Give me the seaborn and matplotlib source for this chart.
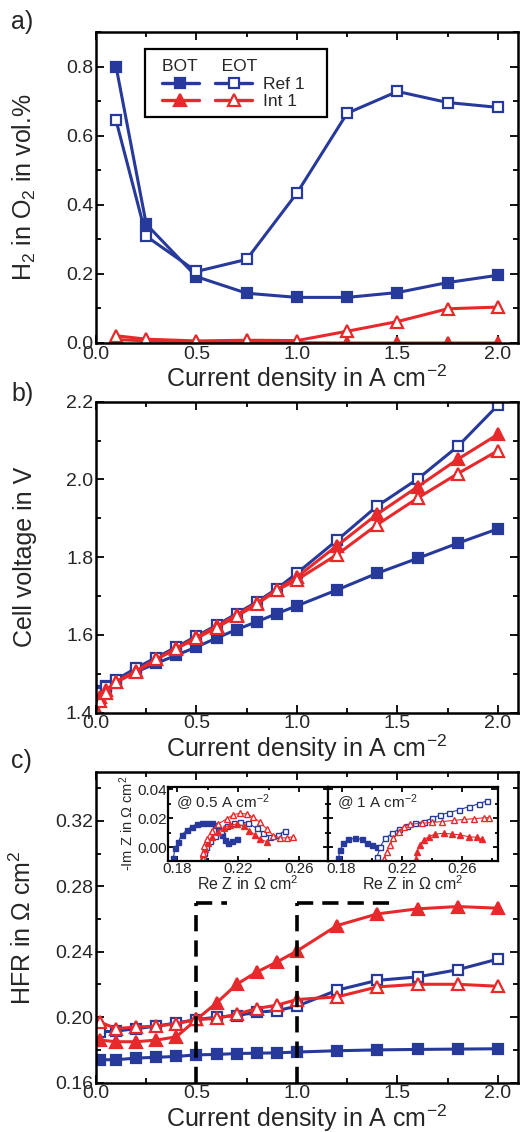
import matplotlib
matplotlib.use("Agg")
import matplotlib.pyplot as plt
import seaborn as sns
from matplotlib.lines import Line2D
from matplotlib.legend_handler import HandlerTuple
from matplotlib.patches import Rectangle
from matplotlib.ticker import MultipleLocator

# ---- panel a: H2 in O2 ----
a_j = [0.1, 0.25, 0.5, 0.75, 1.0, 1.25, 1.5, 1.75, 2.0]
a_bot_ref = [0.80, 0.344, 0.192, 0.144, 0.132, 0.132, 0.146, 0.175, 0.196]
a_eot_ref = [0.644, 0.309, 0.207, 0.242, 0.434, 0.665, 0.728, 0.696, 0.682]
a_bot_int = [0.010, 0.006, 0.002, 0.001, 0.001, 0.0, 0.0, 0.0, 0.0]
a_eot_int = [0.021, 0.011, 0.006, 0.008, 0.007, 0.034, 0.062, 0.099, 0.104]

# ---- panel b: polarisation curves ----
b_j = [0.0, 0.02, 0.05, 0.1, 0.2, 0.3, 0.4, 0.5, 0.6, 0.7, 0.8, 0.9, 1.0,
       1.2, 1.4, 1.6, 1.8, 2.0]
b_bot_ref = [1.44, 1.455, 1.468, 1.482, 1.505, 1.527, 1.548, 1.569, 1.592,
             1.614, 1.634, 1.655, 1.675, 1.716, 1.759, 1.797, 1.836, 1.873]
b_eot_ref = [1.43, 1.45, 1.465, 1.485, 1.515, 1.542, 1.569, 1.597, 1.625,
             1.655, 1.685, 1.719, 1.759, 1.844, 1.932, 2.001, 2.085, 2.191]
b_bot_int = [1.41, 1.44, 1.458, 1.48, 1.508, 1.538, 1.566, 1.594, 1.622,
             1.652, 1.682, 1.716, 1.749, 1.83, 1.911, 1.981, 2.052, 2.116]
b_eot_int = [1.405, 1.43, 1.45, 1.478, 1.505, 1.537, 1.565, 1.591, 1.619,
             1.648, 1.679, 1.715, 1.742, 1.807, 1.884, 1.952, 2.015, 2.074]

# ---- panel c: HFR ----
c_j = [0.02, 0.1, 0.2, 0.3, 0.4, 0.5, 0.6, 0.7, 0.8, 0.9, 1.0, 1.2, 1.4,
       1.6, 1.8, 2.0]
c_bot_ref = [0.174, 0.174, 0.175, 0.1755, 0.176, 0.177, 0.1772, 0.1778,
             0.178, 0.1782, 0.1787, 0.1795, 0.180, 0.1803, 0.1805, 0.1807]
c_eot_ref = [0.191, 0.1915, 0.193, 0.1945, 0.1965, 0.1985, 0.200, 0.201,
             0.203, 0.204, 0.2067, 0.2165, 0.2225, 0.2246, 0.229, 0.2355]
c_bot_int = [0.186, 0.185, 0.185, 0.186, 0.188, 0.1986, 0.2087, 0.2201,
             0.2276, 0.2337, 0.2404, 0.256, 0.2631, 0.2662, 0.2676, 0.2666]
c_eot_int = [0.197, 0.193, 0.194, 0.1945, 0.196, 0.1986, 0.1992, 0.2018,
             0.2053, 0.2073, 0.2108, 0.2124, 0.2185, 0.2201, 0.2201, 0.2189]
zoom_j = [0.5, 1.0]
zoom_end = [0.65, 1.5]
zoom_level = 0.27

# ---- insets: Nyquist at 0.5 A cm-2 ----
n05_bot_ref_re = [0.1775, 0.1786, 0.1808, 0.183, 0.1863, 0.1895, 0.1928,
                  0.1961, 0.1994, 0.2027, 0.2048, 0.207, 0.2092, 0.2114,
                  0.2136, 0.2158, 0.2191]
n05_bot_ref_im = [-0.0076, -0.0007, 0.0039, 0.0085, 0.0119, 0.0142, 0.016,
                  0.017, 0.017, 0.017, 0.0154, 0.0124, 0.0085, 0.005,
                  0.0032, 0.0046, 0.0055]
n05_eot_ref_re = [0.197, 0.1975, 0.199, 0.2015, 0.205, 0.209, 0.213, 0.217,
                  0.2212, 0.2267, 0.2322, 0.2365, 0.2409, 0.2464, 0.2508]
n05_eot_ref_im = [-0.008, -0.004, 0.0, 0.004, 0.008, 0.0115, 0.0145, 0.0165,
                  0.0177, 0.0166, 0.0131, 0.0097, 0.0073, 0.0085, 0.0115]
n05_bot_int_re = [0.1965, 0.197, 0.198, 0.200, 0.203, 0.2065, 0.2105, 0.215,
                  0.2195, 0.224, 0.2275, 0.2311, 0.2344, 0.2388]
n05_bot_int_im = [-0.008, -0.0045, -0.001, 0.003, 0.007, 0.0105, 0.0135,
                  0.0155, 0.016, 0.0145, 0.0115, 0.0085, 0.0055, 0.0039]
n05_eot_int_re = [0.1972, 0.1968, 0.1976, 0.1994, 0.2027, 0.207, 0.2125,
                  0.2168, 0.2212, 0.2256, 0.230, 0.2344, 0.2388, 0.2431,
                  0.2475, 0.2519, 0.2562]
n05_eot_int_im = [-0.0078, -0.004, 0.001, 0.0058, 0.0115, 0.0161, 0.0196,
                  0.0225, 0.0234, 0.023, 0.0207, 0.0172, 0.0127, 0.0081,
                  0.0065, 0.0065, 0.0074]

# ---- insets: Nyquist at 1 A cm-2 ----
n1_bot_ref_re = [0.1779, 0.179, 0.1812, 0.1845, 0.189, 0.1934, 0.1968,
                 0.2001, 0.2034]
n1_bot_ref_im = [-0.0076, -0.0019, 0.0028, 0.0055, 0.0062, 0.0055, 0.0032,
                 0.0016, 0.0004]
n1_eot_ref_re = [0.2035, 0.2057, 0.209, 0.2135, 0.2179, 0.2235, 0.229,
                 0.2345, 0.2401, 0.2457, 0.2512, 0.2579, 0.2645, 0.2712,
                 0.2768]
n1_eot_ref_im = [-0.007, 0.0003, 0.0062, 0.0096, 0.0124, 0.0147, 0.0165,
                 0.0177, 0.020, 0.0223, 0.0239, 0.0257, 0.028, 0.0299, 0.0321]
n1_bot_int_re = [0.2293, 0.230, 0.2322, 0.2345, 0.2378, 0.2423, 0.2478,
                 0.2534, 0.2589, 0.2645, 0.2701, 0.2734]
n1_bot_int_im = [-0.0083, -0.003, 0.0016, 0.005, 0.0073, 0.0092, 0.0096,
                 0.0092, 0.0085, 0.0073, 0.0069, 0.0055]
n1_eot_int_re = [0.2085, 0.2101, 0.2123, 0.2145, 0.2179, 0.2212, 0.2257,
                 0.2335, 0.2401, 0.2468, 0.2545, 0.2612, 0.2679, 0.2745,
                 0.2779]
n1_eot_int_im = [-0.0083, -0.003, 0.0016, 0.0062, 0.0108, 0.0142, 0.016,
                 0.0165, 0.0172, 0.0177, 0.0185, 0.0192, 0.0197, 0.0203,
                 0.0205]

BLUE = "#27399b"
RED = "#e8292c"

sns.set_style("ticks")
plt.rcParams["font.family"] = ["Liberation Sans", "DejaVu Sans"]
plt.rcParams["mathtext.fontset"] = "custom"
plt.rcParams["mathtext.rm"] = "Liberation Sans"
plt.rcParams["mathtext.default"] = "regular"


def draw(ax, x, y, color, marker, filled, ms, lw=2.2, mew=1.6):
    """Draw one series as a line with markers."""
    sns.lineplot(x=x, y=y, ax=ax, color=color, marker=marker,
                 markersize=ms, markerfacecolor=color if filled else "white",
                 markeredgecolor=color, markeredgewidth=mew, linewidth=lw,
                 sort=False, estimator=None, legend=False)


def style_axes(ax, xmaj, xmin, ymaj, ymin, size=14, lw=1.8, tl=6):
    ax.xaxis.set_major_locator(MultipleLocator(xmaj))
    ax.xaxis.set_minor_locator(MultipleLocator(xmin))
    ax.yaxis.set_major_locator(MultipleLocator(ymaj))
    ax.yaxis.set_minor_locator(MultipleLocator(ymin))
    ax.tick_params(which="both", direction="in", top=True, right=True,
                   width=1.3, labelsize=size, pad=2, color="black")
    ax.tick_params(which="major", length=tl)
    ax.tick_params(which="minor", length=tl * 0.55)
    for sp in ax.spines.values():
        sp.set_linewidth(lw)
        sp.set_color("black")


fig = plt.figure(figsize=(5.22, 11.32), dpi=100)
left, width, height = 0.1839, 0.8084, 0.2747
ax_a = fig.add_axes([left, 0.697, width, height])
ax_b = fig.add_axes([left, 0.3704, width, height])
ax_c = fig.add_axes([left, 0.0436, width, height])

xlabel = "Current density in A cm$^{-2}$"
LAB = 18

# panel a
draw(ax_a, a_j, a_bot_ref, BLUE, "s", True, 7.5)
draw(ax_a, a_j, a_eot_ref, BLUE, "s", False, 7.5)
draw(ax_a, a_j, a_bot_int, RED, "^", True, 9)
draw(ax_a, a_j, a_eot_int, RED, "^", False, 9)
ax_a.set_xlim(0, 2.1)
ax_a.set_ylim(0, 0.9)
style_axes(ax_a, 0.5, 0.25, 0.2, 0.1)
ax_a.set_xlabel(xlabel, fontsize=LAB, labelpad=0)
ax_a.set_ylabel("H$_2$ in O$_2$ in vol.%", fontsize=LAB, labelpad=20)

h_bot_ref = Line2D([], [], color=BLUE, marker="s", ms=7, lw=2.4,
                   mfc=BLUE, mec=BLUE, mew=1.6)
h_eot_ref = Line2D([], [], color=BLUE, marker="s", ms=7, lw=2.4,
                   mfc="white", mec=BLUE, mew=1.6)
h_bot_int = Line2D([], [], color=RED, marker="^", ms=8.5, lw=2.4,
                   mfc=RED, mec=RED, mew=1.6)
h_eot_int = Line2D([], [], color=RED, marker="^", ms=8.5, lw=2.4,
                   mfc="white", mec=RED, mew=1.6)
ax_a.add_patch(Rectangle((0.116, 0.727), 0.431, 0.218, transform=ax_a.transAxes,
                         facecolor="white", edgecolor="black", lw=1.6,
                         zorder=4))
leg = ax_a.legend([(h_bot_ref, h_eot_ref), (h_bot_int, h_eot_int)],
                  ["Ref 1", "Int 1"],
                  handler_map={tuple: HandlerTuple(ndivide=None, pad=0.92)},
                  handlelength=5.2, title="BOT     EOT", alignment="left",
                  loc="upper left", bbox_to_anchor=(0.156, 0.912),
                  fontsize=12.5, title_fontsize=12.5, frameon=False,
                  borderpad=0, labelspacing=0.13, handletextpad=0.63,
                  borderaxespad=0)
leg.set_zorder(5)

# panel b
draw(ax_b, b_j, b_bot_ref, BLUE, "s", True, 7)
draw(ax_b, b_j, b_eot_ref, BLUE, "s", False, 7)
draw(ax_b, b_j, b_bot_int, RED, "^", True, 9)
draw(ax_b, b_j, b_eot_int, RED, "^", False, 9)
ax_b.set_xlim(0, 2.1)
ax_b.set_ylim(1.4, 2.2)
style_axes(ax_b, 0.5, 0.25, 0.2, 0.1)
ax_b.set_xlabel(xlabel, fontsize=LAB, labelpad=0)
ax_b.set_ylabel("Cell voltage in V", fontsize=LAB, labelpad=21)

# panel c
draw(ax_c, c_j, c_bot_ref, BLUE, "s", True, 7.5)
draw(ax_c, c_j, c_eot_ref, BLUE, "s", False, 7.5)
draw(ax_c, c_j, c_bot_int, RED, "^", True, 9)
draw(ax_c, c_j, c_eot_int, RED, "^", False, 9)
ax_c.vlines(zoom_j, 0.16, zoom_level, colors="black", lw=2.6,
            linestyles=(0, (4.5, 2.5)), zorder=5)
ax_c.hlines([zoom_level] * 2, zoom_j, zoom_end, colors="black", lw=2.6,
            linestyles=(0, (4.5, 2.5)), zorder=5)
ax_c.set_xlim(0, 2.1)
ax_c.set_ylim(0.16, 0.35)
style_axes(ax_c, 0.5, 0.25, 0.04, 0.02)
ax_c.set_xlabel(xlabel, fontsize=LAB, labelpad=0)
ax_c.set_ylabel("HFR in $\\Omega$ cm$^2$", fontsize=LAB, labelpad=14)

# insets
in1 = fig.add_axes([0.3218, 0.2397, 0.3065, 0.0654])
in2 = fig.add_axes([0.6284, 0.2397, 0.3257, 0.0654])
ims = 3.6
for ax, d, lim, note in [
    (in1, [(n05_bot_ref_re, n05_bot_ref_im), (n05_eot_ref_re, n05_eot_ref_im),
           (n05_bot_int_re, n05_bot_int_im), (n05_eot_int_re, n05_eot_int_im)],
     (0.174, 0.279), "@ 0.5 A cm$^{-2}$"),
    (in2, [(n1_bot_ref_re, n1_bot_ref_im), (n1_eot_ref_re, n1_eot_ref_im),
           (n1_bot_int_re, n1_bot_int_im), (n1_eot_int_re, n1_eot_int_im)],
     (0.171, 0.284), "@ 1 A cm$^{-2}$"),
]:
    draw(ax, d[0][0], d[0][1], BLUE, "s", True, ims, lw=0.8, mew=1.0)
    draw(ax, d[1][0], d[1][1], BLUE, "s", False, ims, lw=0.8, mew=1.0)
    draw(ax, d[2][0], d[2][1], RED, "^", True, ims + 1, lw=0.8, mew=1.0)
    draw(ax, d[3][0], d[3][1], RED, "^", False, ims + 1, lw=0.8, mew=1.0)
    ax.set_xlim(*lim)
    ax.set_ylim(-0.0092, 0.0418)
    style_axes(ax, 0.04, 0.02, 0.02, 0.01, size=11, lw=1.6, tl=3.5)
    ax.tick_params(pad=1)
    ax.set_xlabel("Re Z in $\\Omega$ cm$^2$", fontsize=11.5, labelpad=-1)
    ax.text(0.05, 0.78, note, transform=ax.transAxes, fontsize=11,
            va="center", ha="left")
in1.set_yticks([0.0, 0.02, 0.04])
in1.set_yticklabels(["0.00", "0.02", "0.04"])
in1.set_xticks([0.18, 0.22, 0.26])
in1.set_xticklabels(["0.18", "0.22", "0.26"])
in1.set_ylabel("-Im Z in $\\Omega$ cm$^2$", fontsize=10.5, labelpad=1)
in2.set_xticks([0.18, 0.22, 0.26])
in2.set_xticklabels(["0.18", "0.22", "0.26"])
in2.set_yticks([0.0, 0.02, 0.04])
in2.tick_params(labelleft=False)

for ax, lab, dy in [(ax_a, "a)", 0.009), (ax_b, "b)", 0.007), (ax_c, "c)", 0.009)]:
    pos = ax.get_position()
    fig.text(0.022, pos.y1 + dy, lab, fontsize=18, ha="left", va="center")

fig.savefig("out.png", dpi=100)
